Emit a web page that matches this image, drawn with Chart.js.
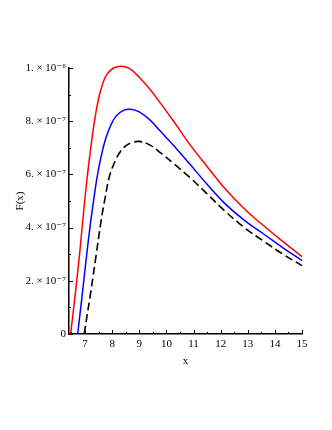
<!DOCTYPE html>
<html>
<head>
<meta charset="utf-8">
<script src="https://cdn.jsdelivr.net/npm/chart.js@4"></script>
<style>
  body { margin: 0; background: #fff; }
  #grafico { display: block; }
</style>
</head>
<body>
<canvas id="grafico" width="332" height="430"></canvas>
<script>
// Curvas F(x), valores em unidades de 1e-7
const redX   = [6.47, 6.64, 6.80, 6.93, 7.05, 7.2, 7.35, 7.5, 7.65, 7.8, 8.05, 8.35, 8.65, 9.0, 9.4, 9.8, 10.3, 10.87, 11.5, 12.2, 12.9, 13.6, 14.3, 15];
const redY   = [0, 1.5, 3.0, 4.4, 5.6, 6.9, 8.0, 8.85, 9.4, 9.75, 10.0, 10.07, 9.98, 9.65, 9.19, 8.65, 7.95, 7.12, 6.3, 5.42, 4.68, 4.06, 3.47, 2.91];
const blueX  = [6.73, 6.9, 7.06, 7.2, 7.31, 7.43, 7.58, 7.75, 7.95, 8.15, 8.4, 8.68, 9.0, 9.4, 9.8, 10.3, 10.87, 11.5, 12.16, 12.9, 13.6, 14.3, 15];
const blueY  = [0, 1.5, 2.96, 4.15, 4.96, 5.8, 6.6, 7.3, 7.85, 8.2, 8.4, 8.45, 8.35, 8.04, 7.6, 7.05, 6.38, 5.63, 4.9, 4.25, 3.75, 3.24, 2.76];
const blackX = [6.97, 7.2, 7.41, 7.6, 7.72, 7.9, 8.11, 8.3, 8.5, 8.7, 8.99, 9.4, 9.8, 10.3, 10.87, 11.5, 12.16, 12.9, 13.6, 14.3, 15];
const blackY = [0, 1.5, 2.96, 4.3, 5.0, 5.92, 6.5, 6.85, 7.07, 7.18, 7.24, 7.1, 6.8, 6.38, 5.88, 5.27, 4.62, 3.98, 3.48, 3.0, 2.57];

const xTicks = [7, 8, 9, 10, 11, 12, 13, 14, 15];
const yTicks = [0, 2e-7, 4e-7, 6e-7, 8e-7, 1e-6];
const yTickLabels = ['0', '2. × 10⁻⁷', '4. × 10⁻⁷', '6. × 10⁻⁷', '8. × 10⁻⁷', '1. × 10⁻⁶'];

function pontos(xs, ys) {
    return xs.map((x, i) => ({ x: x, y: ys[i] * 1e-7 }));
}

// marcas de escala para dentro, como no original
const marcasInternas = {
    id: 'marcasInternas',
    afterDraw(chart) {
        const ctx = chart.ctx;
        const sx = chart.scales.x, sy = chart.scales.y;
        const a = chart.chartArea;
        ctx.save();
        ctx.strokeStyle = '#000';
        ctx.lineWidth = 1;
        for (let v = 6.5; v <= 15; v += 0.5) {
            const px = Math.round(sx.getPixelForValue(v)) + 0.5;
            const len = Number.isInteger(v) ? 4 : 2;
            ctx.beginPath();
            ctx.moveTo(px, a.bottom);
            ctx.lineTo(px, a.bottom - len);
            ctx.stroke();
        }
        for (let k = 0; k <= 10; k++) {
            const py = Math.round(sy.getPixelForValue(k * 1e-7)) + 0.5;
            const len = k % 2 === 0 ? 4 : 2;
            ctx.beginPath();
            ctx.moveTo(a.left, py);
            ctx.lineTo(a.left + len, py);
            ctx.stroke();
        }
        ctx.restore();
    }
};

const fonte = { family: '"Liberation Serif", "DejaVu Serif", serif', size: 11 };

new Chart(document.getElementById('grafico').getContext('2d'), {
    type: 'scatter',
    data: {
        datasets: [{
            data: pontos(redX, redY),
            borderColor: '#ff0000',
            borderWidth: 1.5
        },
        {
            data: pontos(blueX, blueY),
            borderColor: '#0000ff',
            borderWidth: 1.5
        },
        {
            data: pontos(blackX, blackY),
            borderColor: '#000000',
            borderWidth: 1.6,
            borderDash: [8, 4]
        }]
    },
    options: {
        responsive: false,
        animation: false,
        showLine: true,
        clip: false,
        elements: {
            point: { radius: 0 },
            line: { tension: 0.4, fill: false }
        },
        layout: { padding: { left: 14, right: 30, top: 68, bottom: 62 } },
        plugins: {
            legend: { display: false },
            tooltip: { enabled: false }
        },
        scales: {
            x: {
                type: 'linear',
                min: 6.41,
                max: 15,
                afterBuildTicks: function(scale) {
                    scale.ticks = xTicks.map(v => ({ value: v }));
                },
                afterFit: function(scale) { scale.height = 34; },
                grid: { display: false, drawTicks: false },
                border: { color: '#000', width: 1.5 },
                ticks: { color: '#000', font: fonte, padding: 4, maxRotation: 0 },
                title: { display: true, text: 'x', color: '#000', font: fonte, padding: { top: 0, bottom: 0 } }
            },
            y: {
                type: 'linear',
                min: 0,
                max: 1e-6,
                afterBuildTicks: function(scale) {
                    scale.ticks = yTicks.map(v => ({ value: v }));
                },
                afterFit: function(scale) { scale.width = 55; },
                grid: { display: false, drawTicks: false },
                border: { color: '#000', width: 1.5 },
                ticks: {
                    color: '#000',
                    font: fonte,
                    padding: 3,
                    callback: function(value) {
                        const i = yTicks.findIndex(t => Math.abs(t - value) < 1e-12);
                        return i >= 0 ? yTickLabels[i] : '';
                    }
                },
                title: { display: true, text: 'F(x)', color: '#000', font: fonte, padding: 0 }
            }
        }
    },
    plugins: [marcasInternas]
});
</script>
</body>
</html>
